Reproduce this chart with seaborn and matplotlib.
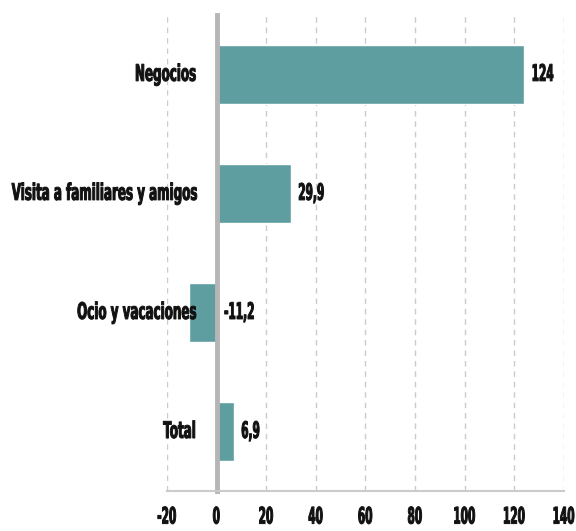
import matplotlib
matplotlib.use("Agg")
import matplotlib.pyplot as plt
import seaborn as sns
import pandas as pd
from matplotlib.patheffects import AbstractPathEffect
from matplotlib.transforms import Affine2D

categories = ["Negocios", "Visita a familiares y amigos", "Ocio y vacaciones", "Total"]
values = [124, 29.9, -11.2, 6.9]
value_labels = ["124", "29,9", "-11,2", "6,9"]
xticks = [-20, 0, 20, 40, 60, 80, 100, 120, 140]


class Condense(AbstractPathEffect):
    """Draw text narrower (horizontal squeeze) with a slight stroke to keep it heavy."""

    def __init__(self, sx, anchor="left", stroke=0.7):
        super().__init__()
        self.sx = sx
        self.anchor = anchor
        self.stroke = stroke

    def draw_path(self, renderer, gc, tpath, affine, rgbFace=None):
        v = tpath.vertices
        if len(v) == 0:
            return
        xmin, xmax = v[:, 0].min(), v[:, 0].max()
        if self.anchor == "right":
            a = xmax
        elif self.anchor == "center":
            a = 0.5 * (xmin + xmax)
        else:
            a = 0.0
        t = Affine2D().translate(-a, 0).scale(self.sx, 1).translate(a, 0) + affine
        gc0 = renderer.new_gc()
        gc0.copy_properties(gc)
        if self.stroke > 0 and rgbFace is not None:
            gc0.set_linewidth(self.stroke)
            gc0.set_foreground(rgbFace)
            gc0.set_joinstyle("round")
        renderer.draw_path(gc0, tpath, t, rgbFace)
        gc0.restore()


sns.set_theme(style="white")
plt.rcParams["font.family"] = ["DejaVu Sans"]
plt.rcParams["font.weight"] = "bold"

FS = 16.5
TXT = "#111111"
GRAY = "#b5b5b5"
LGRAY = "#cbcbcb"

df = pd.DataFrame({"cat": categories, "val": values})

fig = plt.figure(figsize=(5.76, 5.31), dpi=100)
ax = fig.add_axes([0.29, 0.0753, 0.689, 0.8967])

sns.barplot(data=df, x="val", y="cat", orient="h", color="#5F9EA0", saturation=1,
            width=0.5, ax=ax, zorder=2)

ax.set_xlim(-20, 140)
ax.set_ylim(3.5, -0.5)
ax.set_xticks(xticks)
ax.set_xticklabels([str(t) for t in xticks])
ax.set_xlabel("")
ax.set_ylabel("")

ax.grid(axis="x", color=LGRAY, linestyle=(0, (4, 3.5)), linewidth=1, zorder=0)
ax.set_axisbelow(True)

for s in ["top", "right"]:
    ax.spines[s].set_visible(False)
ax.spines["left"].set_position(("data", 0))
ax.spines["left"].set_color(GRAY)
ax.spines["left"].set_linewidth(3.5)
ax.spines["bottom"].set_color(LGRAY)
ax.spines["bottom"].set_linewidth(1.5)

ax.set_yticks([-0.5, 0.5, 1.5, 2.5, 3.5])
ax.set_yticklabels([])
ax.tick_params(axis="y", which="major", direction="out", length=8, width=3.5, color=GRAY)
ax.tick_params(axis="x", direction="inout", length=17, width=1.5, color=LGRAY,
               pad=2, labelsize=FS, labelcolor=TXT)

for lab in ax.get_xticklabels():
    lab.set_path_effects([Condense(0.46, "center")])

# category labels drawn above the bars (they overlap the negative bar)
for i, cat in enumerate(categories):
    ax.annotate(cat, xy=(0, i), xycoords="data", xytext=(-14.5, 0),
                textcoords="offset points", ha="right", va="center",
                fontsize=FS, color=TXT, fontweight="bold", zorder=6,
                annotation_clip=False, path_effects=[Condense(0.52, "right")])

for i, (v, lab) in enumerate(zip(values, value_labels)):
    ax.text(max(v, 0) + 3.0, i, lab, va="center", ha="left", fontsize=FS,
            color=TXT, fontweight="bold", zorder=6,
            path_effects=[Condense(0.46, "left")])

fig.savefig("out.png", dpi=100)
